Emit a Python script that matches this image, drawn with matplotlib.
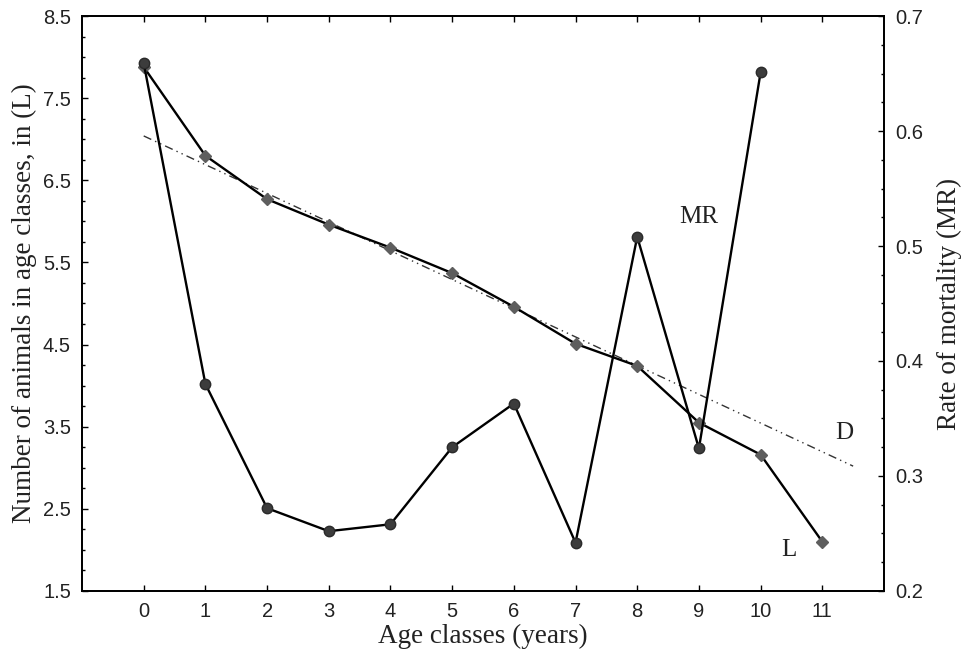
import matplotlib.pyplot as plt
from matplotlib.ticker import MultipleLocator

# age classes and series
age = [0, 1, 2, 3, 4, 5, 6, 7, 8, 9, 10, 11]
age_labels = ["0", "1", "2", "3", "4", "5", "6", "7", "8", "9", "10", "11"]

# number of animals in age classes (L), left axis
animals_L = [7.88, 6.80, 6.27, 5.96, 5.68, 5.37, 4.96, 4.51, 4.24, 3.55, 3.16, 2.10]

# rate of mortality (MR), right axis
age_mr = [0, 1, 2, 3, 4, 5, 6, 7, 8, 9, 10]
mortality_MR = [0.659, 0.380, 0.272, 0.252, 0.258, 0.325, 0.363, 0.242, 0.508, 0.324, 0.651]

# trend line D (left axis)
d_x = [0, 11.5]
d_y = [7.04, 3.02]

serif = "Liberation Serif"
sans = ["Liberation Sans Narrow", "Liberation Sans"]

fig = plt.figure(figsize=(9.66, 6.56), dpi=100)
ax = fig.add_axes([0.0849, 0.0991, 0.8302, 0.8765])
ax2 = ax.twinx()

ax.plot(d_x, d_y, color="#333333", linestyle=(0, (6, 3, 1, 3, 1, 3)), linewidth=1.0)
ax.plot(age, animals_L, color="black", linewidth=1.7,
        marker="D", markersize=6, markerfacecolor="#5e5e5e", markeredgecolor="#5e5e5e")
ax2.plot(age_mr, mortality_MR, color="black", linewidth=1.7,
         marker="o", markersize=7.5, markerfacecolor="#3c3c3c", markeredgecolor="#2a2a2a")

ax.set_xlim(-1, 12)
ax.set_ylim(1.5, 8.5)
ax2.set_ylim(0.2, 0.7)

ax.set_xticks(age)
ax.set_xticklabels(age_labels)
ax.set_yticks([1.5, 2.5, 3.5, 4.5, 5.5, 6.5, 7.5, 8.5])
ax.yaxis.set_minor_locator(MultipleLocator(0.25))
ax2.set_yticks([0.2, 0.3, 0.4, 0.5, 0.6, 0.7])
ax2.yaxis.set_minor_locator(MultipleLocator(0.025))

ax.tick_params(axis="x", direction="in", top=True, length=4, width=1, pad=8)
ax.tick_params(axis="y", which="major", direction="in", length=4, width=1, pad=8)
ax.tick_params(axis="y", which="minor", direction="in", length=2.5, width=1)
ax2.tick_params(axis="y", which="major", direction="in", length=4, width=1, pad=8)
ax2.tick_params(axis="y", which="minor", direction="in", length=2.5, width=1)

for lab in ax.get_xticklabels() + ax.get_yticklabels() + ax2.get_yticklabels():
    lab.set_family(sans)
    lab.set_fontsize(14.5)
    lab.set_color("#222222")

for a in (ax, ax2):
    for s in a.spines.values():
        s.set_linewidth(1.3)

ax.set_xlabel("Age classes (years)", fontfamily=serif, fontsize=19.5, labelpad=2, color="#222222")
ax.set_ylabel("Number of animals in age classes, in (L)", fontfamily=serif, fontsize=19.5,
              labelpad=4, color="#222222")
ax2.set_ylabel("Rate of mortality (MR)", fontfamily=serif, fontsize=19.5, labelpad=10, color="#222222")

ax.text(9.0, 6.05, "MR", fontfamily=serif, fontsize=18, ha="center", va="center", color="#222222")
ax.text(11.36, 3.42, "D", fontfamily=serif, fontsize=18, ha="center", va="center", color="#222222")
ax.text(10.45, 2.0, "L", fontfamily=serif, fontsize=18, ha="center", va="center", color="#222222")

fig.savefig("out.png", dpi=100)
